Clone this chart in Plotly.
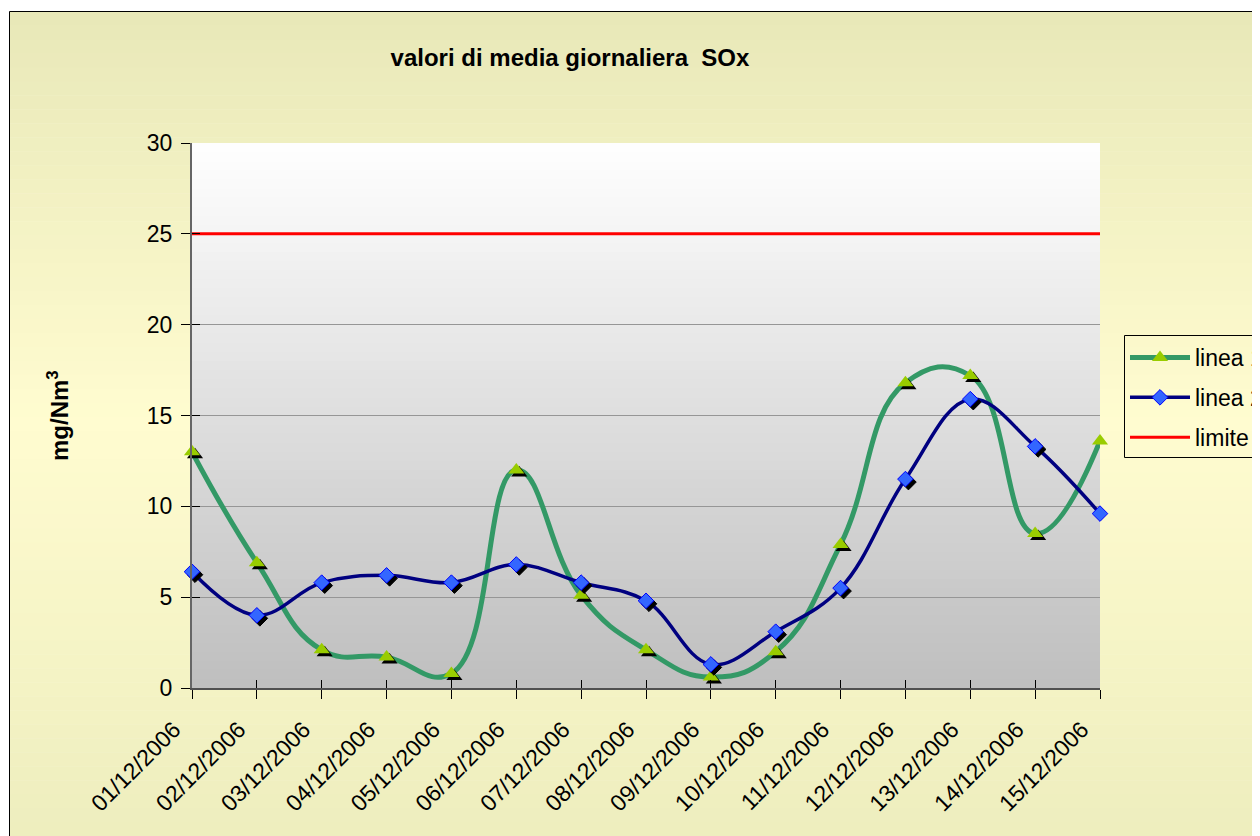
import plotly.graph_objects as go

# ---------------- data ----------------
dates = ["01/12/2006", "02/12/2006", "03/12/2006", "04/12/2006", "05/12/2006",
         "06/12/2006", "07/12/2006", "08/12/2006", "09/12/2006", "10/12/2006",
         "11/12/2006", "12/12/2006", "13/12/2006", "14/12/2006", "15/12/2006"]
linea1 = [13.0, 6.9, 2.1, 1.7, 0.8, 12.0, 5.1, 2.1, 0.6, 2.0, 7.9, 16.8, 17.2, 8.5, 13.6]
linea2 = [6.4, 4.0, 5.8, 6.2, 5.8, 6.8, 5.8, 4.8, 1.3, 3.1, 5.5, 11.5, 15.9, 13.3, 9.6]
limite = [25] * len(dates)
y_ticks = [0, 5, 10, 15, 20, 25, 30]

title_text = "valori di media giornaliera  SOx"
y_title = "mg/Nm<sup>3</sup>"

# ---------------- geometry ----------------
# page has an 8px body margin; work in screen pixels and convert
OFF = 8
W, H = 1260 - OFF, 836 - OFF
SL, SR, ST, SB = 192, 1100, 143, 688          # plot area in screen px
L, R, T, B = SL - OFF, SR - OFF, ST - OFF, SB - OFF
idx = list(range(len(dates)))


def px_x(p):  # screen px -> paper x
    return (p - SL) / (SR - SL)


def px_y(p):  # screen px -> paper y
    return (SB - p) / (SB - ST)


# shadow offset in data units (3px right, 3px down)
SDX = 3 / ((SR - SL) / (len(dates) - 1))
SDY = 3 / ((SB - ST) / 30)

FONT = "Liberation Sans, Arial, sans-serif"
GREEN = "#339966"
GREEN_M = "#99CC00"
NAVY = "#000080"
BLUE_M = "#3366FF"
RED = "#FF0000"
TRI = 14
DIA = 12

fig = go.Figure()

# lines (smoothed)
fig.add_trace(go.Scatter(x=idx, y=linea1, mode="lines",
                         line=dict(color=GREEN, width=5, shape="spline", smoothing=1.3),
                         showlegend=False, cliponaxis=False, hoverinfo="skip"))
fig.add_trace(go.Scatter(x=idx, y=linea2, mode="lines",
                         line=dict(color=NAVY, width=3.5, shape="spline", smoothing=1.1),
                         showlegend=False, cliponaxis=False, hoverinfo="skip"))
fig.add_trace(go.Scatter(x=idx, y=limite, mode="lines", line=dict(color=RED, width=3),
                         showlegend=False, cliponaxis=False, hoverinfo="skip"))

# markers with shadows
fig.add_trace(go.Scatter(x=[i + SDX for i in idx], y=[v - SDY for v in linea1], mode="markers",
                         marker=dict(symbol="triangle-up", size=TRI, color="black", line=dict(width=0)),
                         showlegend=False, cliponaxis=False, hoverinfo="skip"))
fig.add_trace(go.Scatter(x=idx, y=linea1, mode="markers", name="linea 1",
                         marker=dict(symbol="triangle-up", size=TRI, color=GREEN_M, line=dict(width=0)),
                         showlegend=False, cliponaxis=False))
fig.add_trace(go.Scatter(x=[i + SDX for i in idx], y=[v - SDY for v in linea2], mode="markers",
                         marker=dict(symbol="diamond", size=DIA, color="black", line=dict(width=1, color="black")),
                         showlegend=False, cliponaxis=False, hoverinfo="skip"))
fig.add_trace(go.Scatter(x=idx, y=linea2, mode="markers", name="linea 2",
                         marker=dict(symbol="diamond", size=DIA, color=BLUE_M, line=dict(width=1, color="#0000FF")),
                         showlegend=False, cliponaxis=False))

# legend entries (on overlay axes)
fig.add_trace(go.Scatter(x=[None], y=[None], mode="lines+markers", name="linea 1", legendgroup="a",
                         line=dict(color=GREEN, width=5),
                         marker=dict(symbol="triangle-up", size=TRI, color=GREEN_M),
                         xaxis="x2", yaxis="y2"))
fig.add_trace(go.Scatter(x=[None], y=[None], mode="lines+markers", name="linea 2", legendgroup="b",
                         line=dict(color=NAVY, width=3.5),
                         marker=dict(symbol="diamond", size=DIA, color=BLUE_M, line=dict(width=1, color="#0000FF")),
                         xaxis="x2", yaxis="y2"))
fig.add_trace(go.Scatter(x=[None], y=[None], mode="lines", name="limite", legendgroup="c",
                         line=dict(color=RED, width=3),
                         xaxis="x2", yaxis="y2"))

shapes = []


def lerp(c1, c2, t):
    return tuple(round(a + (b - a) * t) for a, b in zip(c1, c2))


# outer chart background (vertical gradient, lighter in the middle)
top_c, mid_c, bot_c = (232, 232, 184), (255, 252, 208), (237, 237, 189)
y_top, y_mid, y_bot = 11.5, 420, 850
n = 60
for i in range(n):
    p0 = y_top + (y_bot - y_top) * i / n
    p1 = y_top + (y_bot - y_top) * (i + 1) / n + 0.5
    pc = (p0 + p1) / 2
    if pc < y_mid:
        c = lerp(top_c, mid_c, (pc - y_top) / (y_mid - y_top))
    else:
        c = lerp(mid_c, bot_c, (pc - y_mid) / (y_bot - y_mid))
    shapes.append(dict(type="rect", xref="paper", yref="paper", layer="below",
                       x0=px_x(9.5), x1=px_x(1290), y0=px_y(p0), y1=px_y(p1),
                       fillcolor="rgb(%d,%d,%d)" % c, line=dict(width=0)))
shapes.append(dict(type="rect", xref="paper", yref="paper", layer="below",
                   x0=px_x(9.5), x1=px_x(1290), y0=px_y(11.5), y1=px_y(860),
                   fillcolor="rgba(0,0,0,0)", line=dict(width=1, color="black")))

# legend frame (runs off the right edge like the reference)
shapes.append(dict(type="rect", xref="paper", yref="paper", layer="below",
                   x0=px_x(1124.5), x1=px_x(1300), y0=px_y(335.5), y1=px_y(457.5),
                   fillcolor="rgba(0,0,0,0)", line=dict(width=1, color="black")))

# plot-area gradient (white top to grey bottom)
m = 60
for i in range(m):
    t0 = i / m
    t1 = (i + 1) / m
    g = round(255 - 65 * ((t0 + t1) / 2))
    shapes.append(dict(type="rect", xref="x domain", yref="y domain", layer="below",
                       x0=0, x1=1, y0=1 - t1 - 0.002, y1=1 - t0,
                       fillcolor="rgb(%d,%d,%d)" % (g, g, g), line=dict(width=0)))

annotations = [
    dict(text="<b>%s</b>" % y_title, textangle=-90, xref="paper", yref="paper",
         x=px_x(58), y=px_y(416), xanchor="center", yanchor="middle", showarrow=False,
         font=dict(family=FONT, size=24, color="black")),
]

fig.update_layout(
    width=W, height=H,
    margin=dict(l=L, r=W - R, t=T, b=H - B, autoexpand=False),
    paper_bgcolor="white",
    plot_bgcolor="rgba(0,0,0,0)",
    font=dict(family=FONT, size=23, color="black"),
    title=dict(text="<b>%s</b>" % title_text, x=(570 - OFF) / W, xanchor="center",
               y=1 - (58 - OFF) / H, yanchor="middle", font=dict(family=FONT, size=24, color="black")),
    xaxis=dict(range=[0, len(dates) - 1], tickmode="array", tickvals=idx, ticktext=dates,
               tickangle=-45, ticks="outside", ticklen=9, tickcolor="black", tickwidth=1,
               showline=True, linecolor="#505050", linewidth=2, showgrid=False, zeroline=False,
               ticklabelstandoff=8, ticklabelshift=-18,
               tickfont=dict(family=FONT, size=23, color="black")),
    yaxis=dict(range=[0, 30], tickmode="array", tickvals=y_ticks, ticks="outside", ticklen=9,
               tickcolor="black", tickwidth=1, showline=True, linecolor="#666666", linewidth=2,
               showgrid=True, gridcolor="#969696", gridwidth=1, zeroline=False,
               ticklabelstandoff=4, tickfont=dict(family=FONT, size=23, color="black")),
    xaxis2=dict(overlaying="x", anchor="y2", side="bottom", range=[0, len(dates) - 1],
                tickmode="array", tickvals=idx, ticks="inside", ticklen=8, tickcolor="black",
                tickwidth=1, showticklabels=False, showgrid=False, zeroline=False, showline=False),
    yaxis2=dict(overlaying="y", anchor="x2", side="left", range=[0, 30], tickmode="array",
                tickvals=y_ticks, ticks="inside", ticklen=8, tickcolor="black", tickwidth=1,
                showticklabels=False, showgrid=False, zeroline=False, showline=False),
    legend=dict(x=px_x(1125), y=px_y(336), xanchor="left", yanchor="top",
                bgcolor="rgba(0,0,0,0)", borderwidth=0,
                font=dict(family=FONT, size=23, color="black"),
                traceorder="grouped", tracegroupgap=7, itemwidth=60),
    shapes=shapes,
    annotations=annotations,
    showlegend=True,
)

fig.write_html("out.html")
